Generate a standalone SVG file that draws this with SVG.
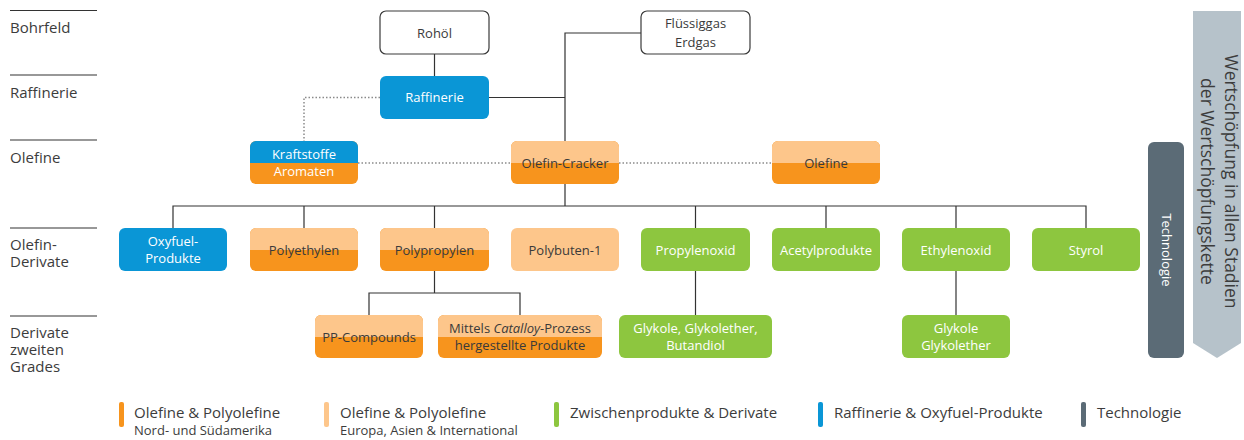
<svg xmlns="http://www.w3.org/2000/svg" width="1244" height="440" viewBox="0 0 1244 440">
<style>
.lvl{stroke:#333;stroke-width:1.2}
text{font-family:"Open Sans","Liberation Sans",sans-serif}
.lbl{font-size:15px;fill:#3c3c3c}
.bt{font-size:13px;text-anchor:middle}
.w{fill:#fff}
.d{fill:#3a3a3a}
.blue{fill:#0a96d6}
.or{fill:#f7941d}
.lo{fill:#fdc68b}
.gr{fill:#8dc63f}
.wb{fill:#fff;stroke:#3a3a3a;stroke-width:1.2}
.con{stroke:#333;stroke-width:1.2;fill:none}
.dot{stroke:#8a8a8a;stroke-width:1.5;stroke-dasharray:1.5 2;fill:none}
.lg{font-size:15px;fill:#3c3c3c}
.lgs{font-size:13px;fill:#3c3c3c}
</style>
<rect width="1244" height="440" fill="#fff"/>
<g id="levels">
<line class="lvl" x1="10" y1="10.5" x2="97" y2="10.5"/>
<line class="lvl" x1="10" y1="75" x2="97" y2="75"/>
<line class="lvl" x1="10" y1="140" x2="97" y2="140"/>
<line class="lvl" x1="10" y1="228" x2="97" y2="228"/>
<line class="lvl" x1="10" y1="316" x2="97" y2="316"/>
<text class="lbl" x="10" y="33">Bohrfeld</text>
<text class="lbl" x="10" y="98">Raffinerie</text>
<text class="lbl" x="10" y="163">Olefine</text>
<text class="lbl" x="10" y="250">Olefin-</text>
<text class="lbl" x="10" y="267">Derivate</text>
<text class="lbl" x="10" y="338">Derivate</text>
<text class="lbl" x="10" y="355">zweiten</text>
<text class="lbl" x="10" y="372">Grades</text>
</g>
<g id="connectors">
<path class="con" d="M434.5,54 V76"/>
<path class="con" d="M489,97.5 H565"/>
<path class="con" d="M641,33 H565 V206"/>
<path class="con" d="M173,228 V206 H1086 V228"/>
<path class="con" d="M304,206 V228 M434.5,206 V228 M695.5,206 V228 M826,206 V228 M956,206 V228"/>
<path class="con" d="M434.5,271 V293 M369,315 V293 H520 V315"/>
<path class="con" d="M695.5,271 V315"/>
<path class="con" d="M956,271 V315"/>
<path class="dot" d="M380,97.5 H304 V141"/>
<path class="dot" d="M358,163 H511"/>
<path class="dot" d="M619,163 H772"/>
</g>
<g id="rohoel">
<rect class="wb" x="380" y="11" width="109" height="43" rx="6"/>
<text class="bt d" x="434.5" y="37.5">Rohöl</text>
</g>
<g id="fluessiggas">
<rect class="wb" x="641" y="11" width="109" height="43" rx="6"/>
<text class="bt d" x="695.5" y="28">Flüssiggas</text>
<text class="bt d" x="695.5" y="46.5">Erdgas</text>
</g>
<g id="raffinerie">
<rect class="blue" x="380" y="76" width="109" height="43" rx="6"/>
<text class="bt w" x="434.5" y="102">Raffinerie</text>
</g>
<g id="kraftstoffe">
<rect class="or" x="250" y="141" width="108" height="43" rx="6"/>
<path class="blue" d="M250,163 V147 A6,6 0 0 1 256,141 H352 A6,6 0 0 1 358,147 V163 Z"/>
<text class="bt w" x="304" y="158.5">Kraftstoffe</text>
<text class="bt w" x="304" y="176">Aromaten</text>
</g>
<g id="olefin-cracker">
<rect class="or" x="511" y="141" width="108" height="43" rx="6"/>
<path class="lo" d="M511,163 V147 A6,6 0 0 1 517,141 H613 A6,6 0 0 1 619,147 V163 Z"/>
<text class="bt d" x="565" y="167.5">Olefin-Cracker</text>
</g>
<g id="olefine">
<rect class="or" x="772" y="141" width="108" height="43" rx="6"/>
<path class="lo" d="M772,163 V147 A6,6 0 0 1 778,141 H874 A6,6 0 0 1 880,147 V163 Z"/>
<text class="bt d" x="826" y="167.5">Olefine</text>
</g>
<g id="oxyfuel">
<rect class="blue" x="119" y="228" width="108" height="43" rx="6"/>
<text class="bt w" x="173" y="246">Oxyfuel-</text>
<text class="bt w" x="173" y="262.5">Produkte</text>
</g>
<g id="polyethylen">
<rect class="or" x="250" y="228" width="108" height="43" rx="6"/>
<path class="lo" d="M250,250 V234 A6,6 0 0 1 256,228 H352 A6,6 0 0 1 358,234 V250 Z"/>
<text class="bt d" x="304" y="254.5">Polyethylen</text>
</g>
<g id="polypropylen">
<rect class="or" x="380" y="228" width="109" height="43" rx="6"/>
<path class="lo" d="M380,250 V234 A6,6 0 0 1 386,228 H483 A6,6 0 0 1 489,234 V250 Z"/>
<text class="bt d" x="434.5" y="254.5">Polypropylen</text>
</g>
<g id="polybuten">
<rect class="lo" x="511" y="228" width="108" height="43" rx="6"/>
<text class="bt d" x="565" y="254.5">Polybuten-1</text>
</g>
<g id="propylenoxid">
<rect class="gr" x="641" y="228" width="109" height="43" rx="6"/>
<text class="bt w" x="695.5" y="254.5">Propylenoxid</text>
</g>
<g id="acetylprodukte">
<rect class="gr" x="772" y="228" width="108" height="43" rx="6"/>
<text class="bt w" x="826" y="254.5">Acetylprodukte</text>
</g>
<g id="ethylenoxid">
<rect class="gr" x="902" y="228" width="108" height="43" rx="6"/>
<text class="bt w" x="956" y="254.5">Ethylenoxid</text>
</g>
<g id="styrol">
<rect class="gr" x="1032" y="228" width="108" height="43" rx="6"/>
<text class="bt w" x="1086" y="254.5">Styrol</text>
</g>
<g id="pp-compounds">
<rect class="or" x="315" y="315" width="108" height="43" rx="6"/>
<path class="lo" d="M315,337 V321 A6,6 0 0 1 321,315 H417 A6,6 0 0 1 423,321 V337 Z"/>
<text class="bt d" x="369" y="341.5">PP-Compounds</text>
</g>
<g id="catalloy">
<rect class="or" x="438" y="315" width="164" height="43" rx="6"/>
<path class="lo" d="M438,337 V321 A6,6 0 0 1 444,315 H596 A6,6 0 0 1 602,321 V337 Z"/>
<text class="bt d" x="520" y="333">Mittels <tspan font-style="italic">Catalloy</tspan>-Prozess</text>
<text class="bt d" x="520" y="349.5">hergestellte Produkte</text>
</g>
<g id="glykole-butandiol">
<rect class="gr" x="619" y="315" width="153" height="43" rx="6"/>
<text class="bt w" x="695.5" y="333">Glykole, Glykolether,</text>
<text class="bt w" x="695.5" y="349.5">Butandiol</text>
</g>
<g id="glykole-glykolether">
<rect class="gr" x="902" y="315" width="108" height="43" rx="6"/>
<text class="bt w" x="956" y="333">Glykole</text>
<text class="bt w" x="956" y="349.5">Glykolether</text>
</g>
<g id="technologie">
<rect x="1148" y="142" width="36" height="216" rx="6" fill="#5b6b76"/>
<text transform="translate(1162,250) rotate(90)" text-anchor="middle" font-size="13" fill="#fff">Technologie</text>
</g>
<g id="wertschoepfung">
<polygon points="1193,11 1241,11 1241,343 1217,358 1193,343" fill="#b6c2ca"/>
<text transform="translate(1224.5,181.5) rotate(90)" text-anchor="middle" font-size="17.5" fill="#3c3c3c">Wertschöpfung in allen Stadien</text>
<text transform="translate(1201,181.5) rotate(90)" text-anchor="middle" font-size="17.5" fill="#3c3c3c">der Wertschöpfungskette</text>
</g>
<g id="legend">
<rect x="119" y="402" width="5" height="25" rx="2" class="or"/>
<text class="lg" x="134" y="418">Olefine &amp; Polyolefine</text>
<text class="lgs" x="134" y="435">Nord- und Südamerika</text>
<rect x="324" y="402" width="5" height="25" rx="2" class="lo"/>
<text class="lg" x="340" y="418">Olefine &amp; Polyolefine</text>
<text class="lgs" x="340" y="435">Europa, Asien &amp; International</text>
<rect x="554" y="402" width="5" height="25" rx="2" class="gr"/>
<text class="lg" x="570" y="418">Zwischenprodukte &amp; Derivate</text>
<rect x="818" y="402" width="5" height="25" rx="2" class="blue"/>
<text class="lg" x="834" y="418">Raffinerie &amp; Oxyfuel-Produkte</text>
<rect x="1081" y="402" width="5" height="25" rx="2" fill="#5b6b76"/>
<text class="lg" x="1097" y="418">Technologie</text>
</g>
</svg>
